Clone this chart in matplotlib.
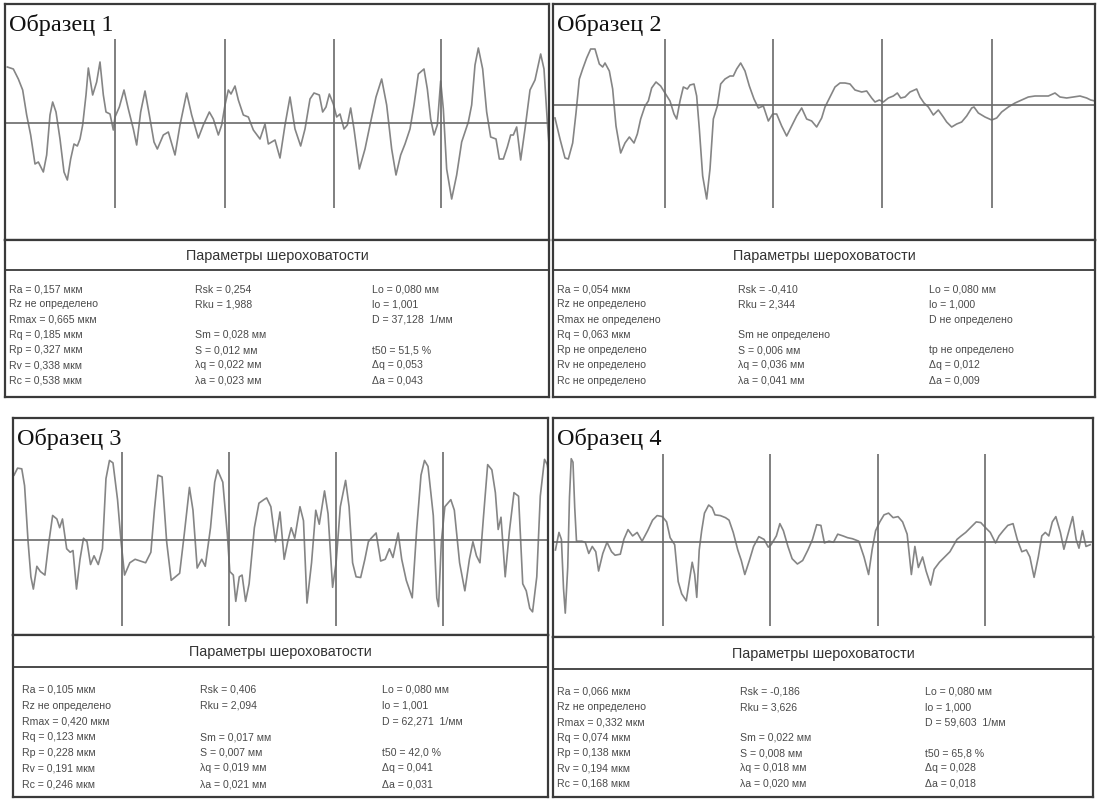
import matplotlib
matplotlib.use("Agg")
import matplotlib.pyplot as plt

# ---------------- data ----------------
titles = ["Образец 1", "Образец 2", "Образец 3", "Образец 4"]
header = "Параметры шероховатости"

# profile traces (position along trace, height relative to mean line)
p1_x = [22, 40, 55, 68, 80, 92, 105, 115, 130, 140,
        150, 158, 168, 180, 192, 202, 212, 222, 232, 240,
        248, 258, 265, 278, 290, 300, 310, 318, 330, 340,
        345, 358, 372, 385, 400, 410, 422, 435, 448, 462,
        472, 490, 505, 525, 540, 560, 575, 595, 610, 628,
        640, 655, 665, 675, 685, 693, 705, 715, 730, 745,
        760, 780, 795, 805, 825, 840, 855, 870, 885, 902,
        915, 930, 942, 958, 968, 978, 988, 1000, 1010, 1020,
        1032, 1042, 1052, 1062, 1078, 1095, 1110, 1128, 1145, 1160,
        1175, 1188, 1202, 1215, 1230, 1242, 1255, 1272, 1282, 1292,
        1302, 1312, 1322, 1330, 1340, 1355, 1370, 1385, 1405, 1415,
        1425, 1435, 1448, 1460, 1472, 1488, 1498, 1510, 1522, 1532,
        1540, 1550, 1562, 1575, 1590, 1605, 1622, 1632, 1642, 1648]
p1_y = [56, 54, 44, 33, 8, -12, -41, -39, -49, -32,
        8, 21, 11, -16, -49, -57, -36, -21, -23, -16,
        -2, 28, 55, 28, 41, 61, 28, 11, 9, -7,
        6, 16, 33, 14, -6, -22, 11, 32, 8, -19,
        -26, -12, -9, -32, -2, 30, 8, -15, -2, 11,
        4, -12, -2, 18, 33, 29, 37, 23, 8, 6,
        -7, -16, -1, -21, -17, -35, -2, 26, -6, -23,
        -6, 24, 30, 28, 11, 16, 29, 19, 6, 9,
        -6, -2, 15, -6, -46, -26, -2, 26, 44, 18,
        -26, -52, -32, -21, -6, 18, 49, 54, 34, 4,
        -12, -2, 42, 14, -46, -76, -52, -19, 1, 18,
        58, 75, 54, 11, -14, -16, -36, -36, -24, -12,
        -12, -4, -37, -6, 33, 43, 69, 54, 1, -26]

p2_x = [15, 30, 45, 55, 68, 78, 88, 98, 110, 122,
        135, 148, 158, 165, 178, 188, 198, 212, 225, 238,
        252, 262, 272, 285, 295, 305, 318, 332, 345, 360,
        372, 380, 390, 400, 412, 420, 432, 440, 448, 458,
        470, 480, 490, 502, 512, 525, 540, 550, 560, 572,
        585, 598, 612, 625, 640, 655, 668, 680, 695, 710,
        725, 740, 755, 770, 785, 800, 815, 825, 840, 855,
        870, 885, 900, 915, 935, 950, 965, 975, 988, 1000,
        1015, 1030, 1042, 1052, 1065, 1080, 1100, 1110, 1122, 1135,
        1150, 1165, 1180, 1190, 1205, 1220, 1235, 1250, 1265, 1272,
        1285, 1305, 1325, 1340, 1355, 1375, 1395, 1415, 1435, 1455,
        1475, 1495, 1515, 1530, 1550, 1570, 1590, 1610, 1622, 1635]
p2_y = [-13, -34, -53, -54, -38, -8, 26, 36, 47, 56,
        56, 41, 38, 42, 34, 16, -21, -48, -38, -32,
        -38, -29, -14, -1, 4, 17, 23, 19, 12, 4,
        -9, -14, 4, 18, 16, 20, 21, 9, -24, -71,
        -94, -64, -14, -1, 21, 26, 29, 29, 36, 42,
        34, 19, 6, -3, -1, -16, -9, -9, -21, -31,
        -21, -11, -3, -14, -16, -22, -13, -2, 8, 18,
        22, 22, 21, 15, 13, 14, 7, 3, 5, 3,
        7, 9, 12, 7, 8, 13, 16, 8, 2, -2,
        -10, -5, -12, -17, -22, -19, -17, -11, -3, -2,
        -8, -12, -15, -13, -7, -2, 2, 5, 8, 9,
        9, 9, 12, 8, 7, 8, 9, 7, 5, 4]

p3_x = [40, 50, 62, 70, 80, 88, 95, 105, 115, 128,
        138, 150, 162, 170, 178, 190, 200, 208, 218, 228,
        238, 248, 258, 268, 280, 292, 302, 312, 322, 335,
        345, 355, 370, 385, 400, 415, 430, 440, 450, 462,
        475, 488, 500, 512, 525, 540, 550, 562, 575, 585,
        600, 612, 620, 635, 648, 655, 665, 672, 682, 690,
        700, 710, 725, 738, 752, 760, 772, 785, 798, 810,
        820, 830, 840, 855, 865, 875, 888, 900, 910, 925,
        935, 948, 958, 970, 985, 995, 1005, 1015, 1028, 1040,
        1050, 1058, 1072, 1085, 1098, 1110, 1120, 1135, 1145, 1158,
        1175, 1188, 1200, 1210, 1220, 1235, 1245, 1250, 1258, 1268,
        1285, 1295, 1310, 1325, 1338, 1348, 1358, 1368, 1378, 1390,
        1402, 1412, 1420, 1428, 1440, 1452, 1465, 1478, 1490, 1500,
        1510, 1518, 1530, 1540, 1552, 1560, 1568]
p3_y = [185, 205, 203, 155, -5, -105, -140, -75, -90, -100,
        -15, 70, 60, 35, 60, -25, -35, -30, -140, -55,
        5, -5, -70, -45, -70, -25, 175, 227, 220, 115,
        -5, -100, -65, -55, -60, -65, -35, 85, 185, 180,
        -5, -115, -105, -95, 15, 150, 85, -80, -55, -75,
        35, 165, 200, 165, 15, -90, -100, -175, -105, -100,
        -175, -125, 35, 105, 115, 120, 95, -5, 80, -55,
        -5, 35, 5, 95, 55, -180, -65, 85, 45, 140,
        75, -135, -65, 95, 170, 95, -65, -105, -107, -55,
        -5, 5, 20, -60, -55, -25, -50, 20, -55, -115,
        -165, 35, 185, 227, 210, 70, -165, -190, -5, 95,
        115, 85, -65, -145, -55, -5, -45, -65, 65, 215,
        200, 135, 30, 65, -105, 25, 135, 125, -125, -145,
        -195, -205, -105, 125, 230, 215, 155]

p4_x = [15, 25, 32, 38, 43, 50, 55, 60, 65, 70,
        75, 90, 100, 110, 120, 130, 138, 150, 162, 175,
        185, 200, 210, 222, 235, 248, 262, 278, 292, 305,
        320, 332, 342, 355, 365, 375, 388, 398, 405, 412,
        418, 425, 432, 440, 452, 462, 470, 485, 500, 510,
        522, 535, 545, 555, 568, 580, 595, 610, 622, 630,
        645, 655, 665, 678, 690, 705, 720, 735, 748, 760,
        772, 782, 795, 808, 820, 835, 848, 862, 880, 895,
        908, 918, 928, 940, 952, 965, 978, 992, 1005, 1018,
        1030, 1040, 1050, 1062, 1072, 1085, 1095, 1110, 1125, 1140,
        1160, 1172, 1185, 1200, 1215, 1228, 1240, 1255, 1270, 1280,
        1292, 1305, 1320, 1332, 1345, 1358, 1368, 1380, 1392, 1402,
        1412, 1422, 1432, 1442, 1455, 1465, 1478, 1490, 1500, 1508,
        1518, 1528, 1540]
p4_y = [-23, 27, 7, -133, -203, -73, 127, 237, 227, 97,
        2, 2, -1, -33, -13, -28, -83, -33, -1, -28,
        -38, -35, 7, 35, 17, 27, 2, 32, 62, 75,
        72, 57, 12, -8, -113, -148, -168, -103, -58, -93,
        -158, -23, 32, 82, 105, 97, 77, 75, 69, 62,
        27, -23, -53, -93, -53, -13, 15, 7, -15, -8,
        17, 52, 32, -13, -48, -63, -53, -23, 7, 49,
        47, -3, 2, -1, 22, 17, 12, 9, 2, -43,
        -93, -23, 32, 57, 77, 82, 69, 72, 57, 22,
        -93, -13, -73, -43, -83, -123, -78, -58, -43, -28,
        7, 17, 27, 42, 57, 55, 42, 27, -3, 17,
        32, 47, 52, 7, -28, -23, -43, -101, -43, 17,
        27, 17, 57, 72, 27, -21, 27, 72, 7, -18,
        32, -13, -8]

# sampling-length boundaries (vertical marks) for each trace
p1_cuts = [345, 676, 1002, 1324]
p2_cuts = [345, 670, 995, 1325]
p3_cuts = [348, 652, 958, 1263]
p4_cuts = [322, 628, 935, 1240]

# roughness parameter tables (three columns, seven rows each)
t1_c1 = ["Ra = 0,157 мкм", "Rz не определено", "Rmax = 0,665 мкм", "Rq = 0,185 мкм",
         "Rp = 0,327 мкм", "Rv = 0,338 мкм", "Rc = 0,538 мкм"]
t1_c2 = ["Rsk = 0,254", "Rku = 1,988", "", "Sm = 0,028 мм", "S = 0,012 мм",
         "λq = 0,022 мм", "λa = 0,023 мм"]
t1_c3 = ["Lo = 0,080 мм", "lo = 1,001", "D = 37,128  1/мм", "", "t50 = 51,5 %",
         "Δq = 0,053", "Δa = 0,043"]

t2_c1 = ["Ra = 0,054 мкм", "Rz не определено", "Rmax не определено", "Rq = 0,063 мкм",
         "Rp не определено", "Rv не определено", "Rc не определено"]
t2_c2 = ["Rsk = -0,410", "Rku = 2,344", "", "Sm не определено", "S = 0,006 мм",
         "λq = 0,036 мм", "λa = 0,041 мм"]
t2_c3 = ["Lo = 0,080 мм", "lo = 1,000", "D не определено", "", "tp не определено",
         "Δq = 0,012", "Δa = 0,009"]

t3_c1 = ["Ra = 0,105 мкм", "Rz не определено", "Rmax = 0,420 мкм", "Rq = 0,123 мкм",
         "Rp = 0,228 мкм", "Rv = 0,191 мкм", "Rc = 0,246 мкм"]
t3_c2 = ["Rsk = 0,406", "Rku = 2,094", "", "Sm = 0,017 мм", "S = 0,007 мм",
         "λq = 0,019 мм", "λa = 0,021 мм"]
t3_c3 = ["Lo = 0,080 мм", "lo = 1,001", "D = 62,271  1/мм", "", "t50 = 42,0 %",
         "Δq = 0,041", "Δa = 0,031"]

t4_c1 = ["Ra = 0,066 мкм", "Rz не определено", "Rmax = 0,332 мкм", "Rq = 0,074 мкм",
         "Rp = 0,138 мкм", "Rv = 0,194 мкм", "Rc = 0,168 мкм"]
t4_c2 = ["Rsk = -0,186", "Rku = 3,626", "", "Sm = 0,022 мм", "S = 0,008 мм",
         "λq = 0,018 мм", "λa = 0,020 мм"]
t4_c3 = ["Lo = 0,080 мм", "lo = 1,000", "D = 59,603  1/мм", "", "t50 = 65,8 %",
         "Δq = 0,028", "Δa = 0,018"]

# ---------------- layout (pixels) ----------------
W, H = 1097, 803
fig = plt.figure(figsize=(W / 100, H / 100), dpi=100)
fig.patch.set_facecolor("white")


def rect(l, t, r, b):
    return [l / W, 1 - b / H, (r - l) / W, (b - t) / H]


panels = [
    dict(box=(5, 5, 549, 241, 271, 398), xlim=(15, 1647), ylim=(-117, 119),
         vy=(-85, 84), x=p1_x, y=p1_y, cuts=p1_cuts, cols=(t1_c1, t1_c2, t1_c3),
         colx=(9, 195, 372), row0=289, step=15.3),
    dict(box=(553, 5, 1095, 241, 271, 398), xlim=(9, 1635), ylim=(-135, 101),
         vy=(-103, 66), x=p2_x, y=p2_y, cuts=p2_cuts, cols=(t2_c1, t2_c2, t2_c3),
         colx=(557, 738, 929), row0=289, step=15.3),
    dict(box=(13, 419, 548, 636, 668, 798), xlim=(37, 1562), ylim=(-271, 348),
         vy=(-245, 250), x=p3_x, y=p3_y, cuts=p3_cuts, cols=(t3_c1, t3_c2, t3_c3),
         colx=(22, 200, 382), row0=690, step=15.7),
    dict(box=(553, 419, 1093, 638, 670, 798), xlim=(8, 1548), ylim=(-271, 353),
         vy=(-239, 251), x=p4_x, y=p4_y, cuts=p4_cuts, cols=(t4_c1, t4_c2, t4_c3),
         colx=(557, 740, 925), row0=692, step=15.3),
]

frame_col = "#3a3a3a"
line_col = "#858585"
grid_col = "#6a6a6a"
text_col = "#4a4a4a"

for i, p in enumerate(panels):
    l, t, r, pb, hb, b = p["box"]
    # profile
    ax = fig.add_axes(rect(l, t, r, pb))
    ax.plot(p["x"], p["y"], color=line_col, lw=1.2, solid_joinstyle="round")
    ax.axhline(0, color=grid_col, lw=1.2)
    ax.vlines(p["cuts"], p["vy"][0], p["vy"][1], color=grid_col, lw=1.2)
    ax.set_xlim(*p["xlim"])
    ax.set_ylim(*p["ylim"])
    ax.set_xticks([])
    ax.set_yticks([])
    for s in ax.spines.values():
        s.set_color(frame_col)
        s.set_linewidth(1.6)
    ax.text(0.008, 0.96, titles[i], transform=ax.transAxes, ha="left", va="top",
            fontsize=17.5, family="Liberation Serif", color="#111111")

    # parameter table
    tx = fig.add_axes(rect(l, pb, r, b))
    tx.set_xlim(l, r)
    tx.set_ylim(b, pb)
    tx.set_xticks([])
    tx.set_yticks([])
    for s in tx.spines.values():
        s.set_color(frame_col)
        s.set_linewidth(1.6)
    tx.axhline(hb, color=frame_col, lw=1.3)
    tx.text((l + r) / 2, (pb + hb) / 2, header, ha="center", va="center",
            fontsize=10.4, family="Liberation Sans", color="#333333")
    for cx, col in zip(p["colx"], p["cols"]):
        for k, s in enumerate(col):
            if s:
                tx.text(cx, p["row0"] + k * p["step"], s, ha="left", va="center",
                        fontsize=7.6, family="Liberation Sans", color=text_col)

fig.savefig("out.png", dpi=100, facecolor="white")
